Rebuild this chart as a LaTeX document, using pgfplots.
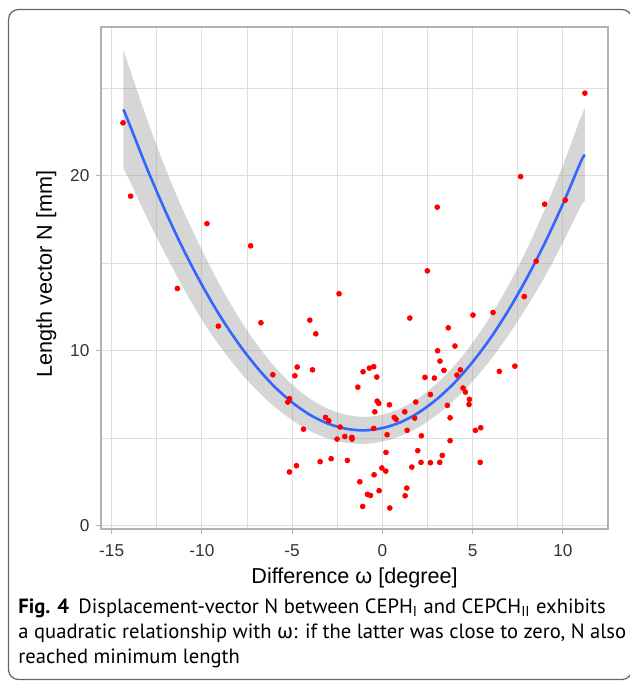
\documentclass[border=0pt]{standalone}
\usepackage{pgfplots}
\usepackage{pgfplotstable}
\pgfplotsset{compat=1.18}
\usepgfplotslibrary{fillbetween}
\usepackage{fontspec}
\setmainfont{Liberation Sans}
\newfontfamily\capfont{PT Sans}
\newfontfamily\capgreek{Fira Sans}
\definecolor{smoothblue}{RGB}{51,102,255}

% fitted curve: x, fit, lower, upper
\pgfplotstableread{
x      y      lo     hi
-14.35 23.80  20.40  27.20
-14    22.92  19.72  26.12
-13    20.32  17.52  23.12
-12    17.93  15.48  20.38
-11    15.74  13.54  17.94
-10    13.77  11.77  15.77
-9     12.00  10.25  13.75
-8     10.45   8.93  11.97
-7      9.11   7.79  10.43
-6      7.97   6.82   9.12
-5      7.05   6.03   8.07
-4      6.33   5.41   7.25
-3      5.83   4.98   6.68
-2      5.54   4.74   6.34
-1      5.45   4.68   6.22
0       5.58   4.81   6.35
1       5.91   5.12   6.70
2       6.46   5.63   7.29
3       7.22   6.32   8.12
4       8.18   7.20   9.16
5       9.36   8.26  10.46
6      10.74   9.49  11.99
7      12.34  10.92  13.76
8      14.15  12.50  15.80
9      16.16  14.24  18.08
10     18.39  16.19  20.59
11     20.82  18.27  23.37
11.22  21.20  18.55  23.85
}\curve

\pgfplotstableread{
x y
-14.37 23.03
-13.95 18.84
-11.36 13.56
-9.72 17.27
-9.09 11.41
-7.30 16.00
-6.73 11.60
-6.07 8.63
-5.15 7.26
-5.24 7.07
-5.15 3.07
-4.85 8.57
-4.76 3.43
-4.72 9.07
-4.37 5.52
-4.02 11.75
-3.87 8.91
-3.69 10.97
-3.45 3.66
-3.15 6.19
-2.97 6.00
-2.84 3.83
-2.51 4.95
-2.40 13.26
-2.34 5.64
-2.08 5.10
-1.94 3.73
-1.69 5.05
-1.68 4.95
-1.36 7.92
-1.25 2.51
-1.09 1.10
-1.07 8.80
-0.83 1.79
-0.72 9.01
-0.66 1.73
-0.48 9.09
-0.48 5.56
-0.46 2.91
-0.42 6.51
-0.31 8.50
-0.29 7.12
-0.20 6.99
-0.18 2.00
-0.03 3.30
0.19 3.12
0.20 4.19
0.26 5.20
0.39 6.91
0.41 1.01
0.66 6.19
0.76 6.08
1.24 6.51
1.26 1.71
1.35 2.15
1.37 5.45
1.52 11.87
1.63 3.35
1.79 6.15
1.85 7.07
1.96 4.29
2.14 3.62
2.16 5.14
2.36 8.48
2.49 14.57
2.66 7.50
2.66 3.60
2.88 8.44
3.04 18.21
3.06 10.00
3.18 3.62
3.19 9.41
3.32 4.02
3.41 8.88
3.60 6.88
3.65 11.31
3.75 6.17
3.75 4.86
4.02 10.27
4.13 8.61
4.32 8.91
4.47 7.87
4.60 7.64
4.80 6.93
4.82 7.22
5.02 12.04
5.15 5.45
5.42 3.62
5.45 5.60
6.13 12.19
6.48 8.82
7.34 9.12
7.66 19.96
7.86 13.10
8.52 15.12
8.99 18.38
10.13 18.61
11.22 24.73
}\points

\begin{document}
\begin{tikzpicture}
\begin{scope}[x=0.5pt,y=-0.5pt]
  \path[use as bounding box] (0,0) rectangle (630,682);
  \draw[rounded corners=5pt, draw=black!60, line width=0.6pt] (8.5,9.5) rectangle (632,679.5);
  \begin{scope}[every node/.style={anchor=base west, inner sep=0pt,
      font=\capfont\fontsize{10.3pt}{12.5pt}\selectfont}]
    \node at (18,613.5) {\textbf{Fig. 4}\hspace{0.45em}Displacement-vector N between CEPH\textsubscript{I} and CEPCH\textsubscript{II} exhibits};
    \node at (18,638.5) {a quadratic relationship with {\capgreek ω}: if the latter was close to zero, N also};
    \node at (18,663) {reached minimum length};
  \end{scope}
\end{scope}

\begin{axis}[
  at={(50.5pt,-264.5pt)}, anchor=south west,
  scale only axis, width=253.5pt, height=251pt,
  xmin=-15.59, xmax=12.5, ymin=-0.19, ymax=28.51,
  xtick={-15,-10,...,10}, ytick={0,10,20},
  minor xtick={-12.5,-7.5,...,7.5}, minor ytick={5,15,25},
  grid=both,
  major grid style={color=black!13, line width=0.5pt},
  minor grid style={color=black!13, line width=0.3pt},
  axis line style={color=black!30, line width=0.6pt},
  tick align=outside, tick pos=left,
  major tick length=2.3pt, minor tick length=0pt,
  tick style={color=black!30, line width=0.5pt},
  /pgf/number format/assume math mode=true,
  ticklabel style={font=\fontsize{8.6pt}{10pt}\selectfont, text=black!80},
  xticklabel style={yshift=-2pt},
  xlabel={Difference ω [degree]},
  ylabel={Length vector N [mm]},
  label style={font=\fontsize{10.8pt}{13pt}\selectfont},
  xlabel style={at={(axis description cs:0.5,0)}, anchor=base, yshift=-27pt},
  ylabel style={at={(axis description cs:0,0.508)}, rotate=0, anchor=base, yshift=24.6pt},
]
  \addplot[only marks, color=red, mark=*, mark size=1.2pt, mark options={draw=red, fill=red}]
    table[x=x, y=y] {\points};
  \addplot[draw=none, name path=hi, smooth] table[x=x, y=hi] {\curve};
  \addplot[draw=none, name path=lo, smooth] table[x=x, y=lo] {\curve};
  \addplot[fill=black!40, fill opacity=0.4, draw=none] fill between[of=hi and lo];
  \addplot[color=smoothblue, line width=1.3pt, smooth] table[x=x, y=y] {\curve};
\end{axis}
\end{tikzpicture}
\end{document}
